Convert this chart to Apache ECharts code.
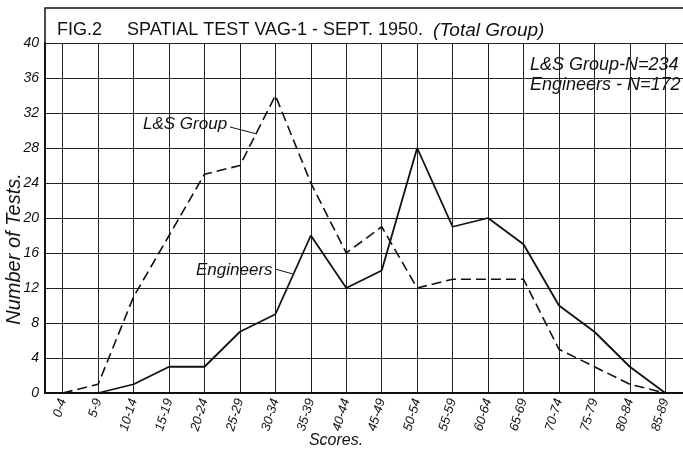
<!DOCTYPE html>
<html>
<head>
<meta charset="utf-8">
<script src="https://cdn.jsdelivr.net/npm/echarts@6/dist/echarts.min.js"></script>
<style>
  html, body { margin: 0; padding: 0; background: #fff; }
  #chart { width: 683px; height: 455px; }
</style>
</head>
<body>
<div id="chart"></div>
<script>
// score bands on the x axis
var scores = ['0-4', '5-9', '10-14', '15-19', '20-24', '25-29', '30-34', '35-39', '40-44',
  '45-49', '50-54', '55-59', '60-64', '65-69', '70-74', '75-79', '80-84', '85-89'];
// L&S group (dashed), N = 234
var lsGroup = [0, 1, 11, 18, 25, 26, 34, 24, 16, 19, 12, 13, 13, 13, 5, 3, 1, 0];
// engineers (solid), N = 172 - line starts at 5-9
var engineers = ['-', 0, 1, 3, 3, 7, 9, 18, 12, 14, 28, 19, 20, 17, 10, 7, 3, 0];
var yTicks = { min: 0, max: 40, step: 4 };

var font = 'Liberation Sans';
var ink = '#111';

var chart = echarts.init(document.getElementById('chart'));

var option = {
  backgroundColor: '#fff',
  animation: false,
  title: {
    left: 52,
    top: 16,
    text: '{a|FIG.2     SPATIAL TEST VAG-1 - SEPT. 1950.}  {b|(Total Group)}',
    textStyle: {
      fontWeight: 'normal',
      rich: {
        a: { fontFamily: font, fontSize: 18, fontWeight: 'normal', color: ink },
        b: { fontFamily: font, fontSize: 19, fontWeight: 'normal', fontStyle: 'italic', color: ink }
      }
    }
  },
  grid: { left: 45, right: 0, top: 43, bottom: 62, outerBoundsMode: 'none' },
  xAxis: {
    type: 'category',
    data: scores,
    boundaryGap: true,
    name: 'Scores.',
    nameLocation: 'middle',
    nameGap: 40,
    nameMoveOverlap: false,
    nameTextStyle: {
      fontFamily: font, fontSize: 16, fontStyle: 'italic', color: ink,
      padding: [0, 56, 0, 0]
    },
    axisLine: { lineStyle: { color: ink, width: 2 } },
    axisTick: { show: false },
    axisLabel: {
      interval: 0,
      rotate: 73,
      margin: 6,
      fontFamily: font, fontSize: 13, fontStyle: 'italic', color: ink
    },
    splitLine: { show: true, alignWithLabel: true, lineStyle: { color: '#222', width: 1 } }
  },
  yAxis: {
    type: 'value',
    min: yTicks.min,
    max: yTicks.max,
    interval: yTicks.step,
    name: 'Number of Tests.',
    nameLocation: 'middle',
    nameRotate: 90,
    nameGap: 21,
    nameMoveOverlap: false,
    nameTextStyle: {
      fontFamily: font, fontSize: 20, fontStyle: 'italic', color: ink,
      padding: [0, 62, 0, 0]
    },
    axisLine: { show: true, lineStyle: { color: ink, width: 2 } },
    axisTick: { show: false },
    axisLabel: { margin: 6, fontFamily: font, fontSize: 14, fontStyle: 'italic', color: ink },
    splitLine: { lineStyle: { color: '#222', width: 1 } }
  },
  series: [
    {
      name: 'L&S Group',
      type: 'line',
      data: lsGroup,
      symbol: 'none',
      lineStyle: { color: ink, width: 1.6, type: [10, 5] }
    },
    {
      name: 'Engineers',
      type: 'line',
      data: engineers,
      symbol: 'none',
      lineStyle: { color: ink, width: 1.8 }
    }
  ],
  graphic: [
    // title frame
    { type: 'polyline', shape: { points: [[45, 43], [45, 8], [683, 8]] },
      style: { stroke: ink, lineWidth: 1.5, fill: null } },
    // N box in the top right corner
    { type: 'rect', shape: { x: 525, y: 44, width: 158, height: 68 },
      style: { fill: '#fff' } },
    { type: 'text', left: 530, top: 55,
      style: { text: 'L&S Group-N=234\nEngineers - N=172', font: 'italic 18px ' + font,
        fill: ink, lineHeight: 20 } },
    // curve labels with leaders
    { type: 'text', left: 143, top: 116,
      style: { text: 'L&S Group', font: 'italic 17px ' + font, fill: ink } },
    { type: 'line', shape: { x1: 230, y1: 127, x2: 257, y2: 134 },
      style: { stroke: ink, lineWidth: 1 } },
    { type: 'text', left: 196, top: 262,
      style: { text: 'Engineers', font: 'italic 17px ' + font, fill: ink } },
    { type: 'line', shape: { x1: 275, y1: 269, x2: 293, y2: 274 },
      style: { stroke: ink, lineWidth: 1 } }
  ]
};

chart.setOption(option);
</script>
</body>
</html>
